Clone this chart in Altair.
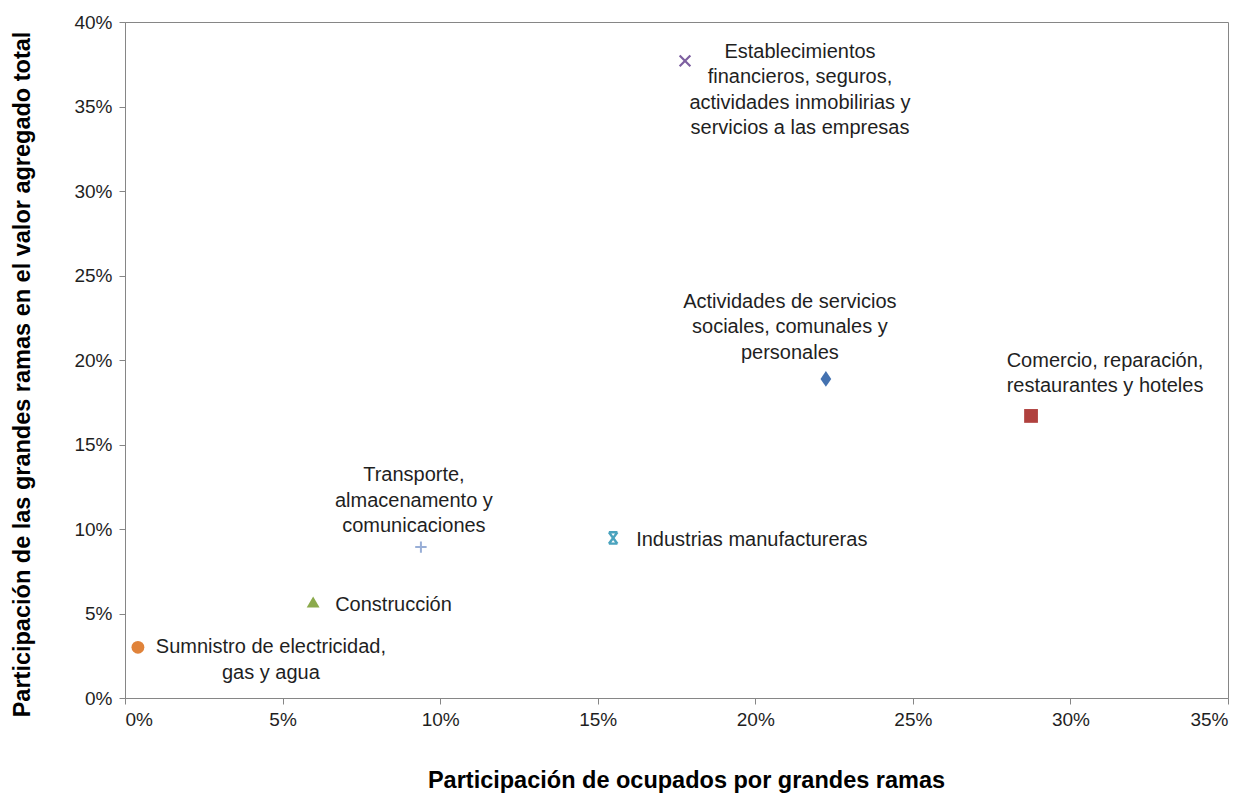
import altair as alt
import pandas as pd

# ---- data ----
categories = [
    "Sumnistro de electricidad, gas y agua",
    "Construcción",
    "Transporte, almacenamento y comunicaciones",
    "Industrias manufactureras",
    "Establecimientos financieros, seguros, actividades inmobilirias y servicios a las empresas",
    "Actividades de servicios sociales, comunales y personales",
    "Comercio, reparación, restaurantes y hoteles",
]
ocupados = [0.0041, 0.0597, 0.0939, 0.1549, 0.1777, 0.2224, 0.2875]
valor_agregado = [0.030, 0.0568, 0.0893, 0.0947, 0.377, 0.1888, 0.1669]
label_lines = [
    ["Sumnistro  de electricidad,", "gas y agua"],
    ["Construcción"],
    ["Transporte,", "almacenamento  y", "comunicaciones"],
    ["Industrias manufactureras"],
    ["Establecimientos", "financieros, seguros,", "actividades  inmobilirias y", "servicios a las empresas"],
    ["Actividades  de servicios", "sociales, comunales  y", "personales"],
    ["Comercio, reparación,", "restaurantes  y hoteles"],
]
x_ticks = [0, 0.05, 0.10, 0.15, 0.20, 0.25, 0.30, 0.35]
y_ticks = [0, 0.05, 0.10, 0.15, 0.20, 0.25, 0.30, 0.35, 0.40]

# ---- styles ----
colors = ["#E0833A", "#8BAA4C", "#98AED6", "#4AA3BE", "#7D5FA0", "#4472B0", "#B0413E"]
star_path = "M-0.75,-1L0.75,1M0.75,-1L-0.75,1M-0.75,-1L0.75,-1M-0.75,1L0.75,1"
plus_path = "M-1,0L1,0M0,-1L0,1"
x_path = "M-1,-1L1,1M1,-1L-1,1"
diamond_path = "M0,-1L0.68,0L0,1L-0.68,0Z"
marker_style = [
    dict(shape="circle", filled=True, size=165),
    dict(shape="triangle-up", filled=True, size=165),
    dict(shape=plus_path, filled=False, size=130, strokeWidth=2),
    dict(shape=star_path, filled=False, size=130, strokeWidth=2.4),
    dict(shape=x_path, filled=False, size=115, strokeWidth=2.2),
    dict(shape=diamond_path, filled=True, size=250),
    dict(shape="square", filled=True, size=190),
]
# label placement (pixel offsets of the first line from the point, alignment)
label_style = [
    dict(dx=133, dy=0, align="center"),
    dict(dx=22, dy=3, align="left"),
    dict(dx=-7, dy=-72, align="center"),
    dict(dx=23, dy=2, align="left"),
    dict(dx=115, dy=-9, align="center"),
    dict(dx=-36, dy=-77, align="center"),
    dict(dx=74, dy=-55, align="center"),
]

FONT = "Liberation Sans, Arial, sans-serif"
TXT = "#1f1f1f"
AX = "#868686"

x_enc = alt.X("x:Q", scale=alt.Scale(domain=[0, 0.35], nice=False, zero=True),
              axis=alt.Axis(values=x_ticks, format=".0%", title="Participación de ocupados por grandes ramas",
                            grid=False, tickSize=6, labelPadding=6, titleX=561, titleAlign="center",
                            titleY=82, titleBaseline="middle"))
y_enc = alt.Y("y:Q", scale=alt.Scale(domain=[0, 0.40], nice=False, zero=True),
              axis=alt.Axis(values=y_ticks, format=".0%",
                            title="Participación de las grandes ramas en el valor agregado total",
                            grid=False, tickSize=6, labelPadding=7, titleX=-103, titleY=352,
                            titleAngle=-90, titleAlign="center", titleBaseline="middle"))

layers = []
for i, cat in enumerate(categories):
    ms = marker_style[i]
    pdf = pd.DataFrame({"cat": [cat], "x": [ocupados[i]], "y": [valor_agregado[i]]})
    if ms["filled"]:
        mk = alt.Chart(pdf).mark_point(shape=ms["shape"], filled=True, opacity=1, size=ms["size"],
                                       fill=colors[i], strokeWidth=0)
    else:
        mk = alt.Chart(pdf).mark_point(shape=ms["shape"], filled=False, opacity=1, size=ms["size"],
                                       stroke=colors[i], strokeWidth=ms["strokeWidth"])
    layers.append(mk.encode(x=x_enc, y=y_enc))

for i, cat in enumerate(categories):
    st = label_style[i]
    ldf = pd.DataFrame({"x": [ocupados[i]], "y": [valor_agregado[i]], "lab": [label_lines[i]]})
    t = alt.Chart(ldf).mark_text(
        align=st["align"], baseline="middle", dx=st["dx"], dy=st["dy"],
        font=FONT, fontSize=20, lineHeight=25.5, color=TXT,
    ).encode(x=alt.X("x:Q"), y=alt.Y("y:Q"), text="lab")
    layers.append(t)

chart = alt.layer(*layers).properties(
    width=1103, height=676,
    autosize=alt.AutoSizeParams(type="none"),
    padding={"left": 117, "top": 14, "right": 10, "bottom": 96},
).configure_view(
    stroke=AX, strokeWidth=1
).configure_axis(
    domainColor=AX, tickColor=AX, labelColor=TXT, titleColor="#000000",
    labelFont=FONT, labelFontSize=19, titleFont=FONT,
    titleFontSize=23.5, titleFontWeight="bold",
)

chart.save("out.html", embed_options={"renderer": "svg", "actions": False})
